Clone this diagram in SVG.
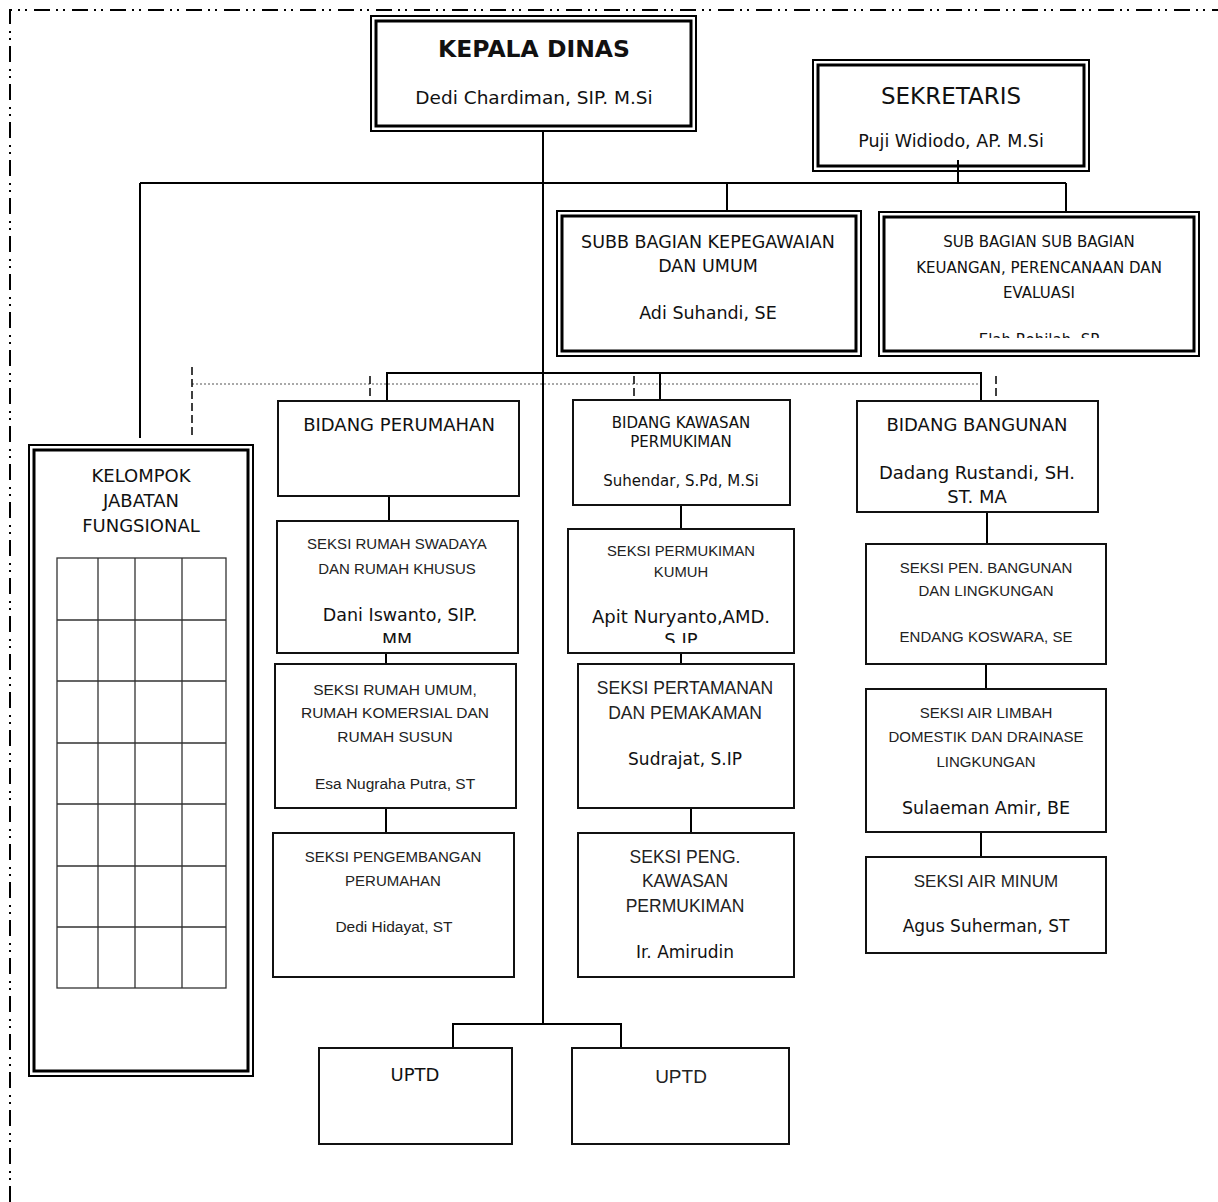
<svg xmlns="http://www.w3.org/2000/svg" width="1218" height="1202" viewBox="0 0 1218 1202">
<style>
.bg{fill:#fff}
.o{fill:none;stroke:#000;stroke-width:2}
.i{fill:none;stroke:#000;stroke-width:3}
.b{fill:#fff;stroke:#111;stroke-width:2}
.ln{fill:none;stroke:#000;stroke-width:2}
.dot{fill:none;stroke:#555;stroke-width:1.2;stroke-dasharray:2 2}
.dsh{fill:none;stroke:#000;stroke-width:1.5;stroke-dasharray:8 4}
.brd{fill:none;stroke:#000;stroke-width:2;stroke-dasharray:16 6 2 5 2 7}
.grid{fill:none;stroke:#333;stroke-width:1.3}
.cg{font-family:"DejaVu Sans","Liberation Sans",sans-serif;fill:#111;text-anchor:middle}
.cb{font-family:"Liberation Sans","Open Sans",sans-serif;fill:#222;text-anchor:middle}
</style>
<defs>
<clipPath id="cKeu"><rect x="880" y="215" width="316" height="123"/></clipPath>
<clipPath id="cSwa"><rect x="278" y="522" width="239" height="121"/></clipPath>
<clipPath id="cKum"><rect x="569" y="530" width="224" height="113"/></clipPath>
</defs>
<rect class="bg" x="0" y="0" width="1218" height="1202"/>
<path class="brd" d="M10 1202 V10 H1218"/>

<g id="connectors">
<path class="ln" d="M543 131 V1024"/>
<path class="ln" d="M958 160 V183"/>
<path class="ln" d="M140 183 H1066"/>
<path class="ln" d="M140 183 V438"/>
<path class="ln" d="M727 183 V211"/>
<path class="ln" d="M1066 183 V212"/>
<path class="dot" d="M192 384 H981"/>
<path class="dsh" d="M192 367 V438"/>
<path class="dsh" d="M370 376 V400"/>
<path class="dsh" d="M634 376 V400"/>
<path class="dsh" d="M996 376 V400"/>
<path class="ln" d="M387 401 V373 H981 V401"/>
<path class="ln" d="M660 373 V400"/>
<path class="ln" d="M389 496 V521"/>
<path class="ln" d="M386 653 V664"/>
<path class="ln" d="M386 808 V833"/>
<path class="ln" d="M681 505 V529"/>
<path class="ln" d="M681 653 V664"/>
<path class="ln" d="M691 808 V833"/>
<path class="ln" d="M987 512 V544"/>
<path class="ln" d="M986 664 V689"/>
<path class="ln" d="M981 832 V857"/>
<path class="ln" d="M453 1048 V1024 H621 V1048"/>
</g>

<g id="kepala-dinas">
<rect class="b" x="371" y="16" width="325" height="115"/>
<rect class="o" x="371" y="16" width="325" height="115"/>
<rect class="i" x="376" y="21" width="315" height="105"/>
<text class="cg" x="534" y="57" font-size="23.5" font-weight="bold">KEPALA DINAS</text>
<text class="cg" x="534" y="104" font-size="18.5">Dedi Chardiman, SIP. M.Si</text>
</g>

<g id="sekretaris">
<rect class="b" x="813" y="60" width="276" height="111"/>
<rect class="o" x="813" y="60" width="276" height="111"/>
<rect class="i" x="818" y="65" width="266" height="101"/>
<text class="cg" x="951" y="104" font-size="23">SEKRETARIS</text>
<text class="cg" x="951" y="147" font-size="17.5">Puji Widiodo, AP. M.Si</text>
</g>
<path class="ln" d="M958 160 V171"/>

<g id="subb-kepegawaian">
<rect class="b" x="557" y="211" width="304" height="145"/>
<rect class="o" x="557" y="211" width="304" height="145"/>
<rect class="i" x="562" y="216" width="294" height="135"/>
<text class="cg" x="708" y="248" font-size="17.5">SUBB BAGIAN KEPEGAWAIAN</text>
<text class="cg" x="708" y="272" font-size="17.5">DAN UMUM</text>
<text class="cg" x="708" y="319" font-size="17.5">Adi Suhandi, SE</text>
</g>

<g id="sub-keuangan">
<rect class="b" x="879" y="212" width="320" height="144"/>
<rect class="o" x="879" y="212" width="320" height="144"/>
<rect class="i" x="884" y="217" width="310" height="134"/>
<text class="cg" x="1039" y="247" font-size="15">SUB BAGIAN SUB BAGIAN</text>
<text class="cg" x="1039" y="273" font-size="15">KEUANGAN, PERENCANAAN DAN</text>
<text class="cg" x="1039" y="298" font-size="15">EVALUASI</text>
<text class="cg" x="1039" y="345" font-size="15" clip-path="url(#cKeu)">Elah Rohilah, SP</text>
</g>

<g id="kelompok-jabatan-fungsional">
<rect class="b" x="29" y="445" width="224" height="631"/>
<rect class="o" x="29" y="445" width="224" height="631"/>
<rect class="i" x="34" y="450" width="214" height="621"/>
<text class="cg" x="141" y="482" font-size="18">KELOMPOK</text>
<text class="cg" x="141" y="507" font-size="18">JABATAN</text>
<text class="cg" x="141" y="532" font-size="18">FUNGSIONAL</text>
<rect class="grid" x="57" y="558" width="169" height="430"/>
<path class="grid" d="M98 558 V988 M135 558 V988 M182 558 V988 M57 620 H226 M57 681 H226 M57 743 H226 M57 804 H226 M57 866 H226 M57 927 H226"/>
</g>

<g id="bidang-perumahan">
<rect class="b" x="278" y="401" width="241" height="95"/>
<text class="cg" x="399" y="431" font-size="18">BIDANG PERUMAHAN</text>
</g>

<g id="bidang-kawasan-permukiman">
<rect class="b" x="573" y="400" width="217" height="105"/>
<text class="cg" x="681" y="428" font-size="15">BIDANG KAWASAN</text>
<text class="cg" x="681" y="447" font-size="15">PERMUKIMAN</text>
<text class="cg" x="681" y="486" font-size="15">Suhendar, S.Pd, M.Si</text>
</g>

<g id="bidang-bangunan">
<rect class="b" x="857" y="401" width="241" height="111"/>
<text class="cg" x="977" y="431" font-size="18">BIDANG BANGUNAN</text>
<text class="cg" x="977" y="479" font-size="18">Dadang Rustandi, SH.</text>
<text class="cg" x="977" y="503" font-size="18">ST. MA</text>
</g>

<g id="seksi-rumah-swadaya">
<rect class="b" x="277" y="521" width="241" height="132"/>
<text class="cb" x="397" y="549" font-size="15">SEKSI RUMAH SWADAYA</text>
<text class="cb" x="397" y="574" font-size="15">DAN RUMAH KHUSUS</text>
<text class="cg" x="400" y="621" font-size="17.5">Dani Iswanto, SIP.</text>
<text class="cg" x="397" y="646" font-size="17.5" clip-path="url(#cSwa)">MM</text>
</g>

<g id="seksi-rumah-umum">
<rect class="b" x="275" y="664" width="241" height="144"/>
<text class="cb" x="395" y="695" font-size="15.5">SEKSI RUMAH UMUM,</text>
<text class="cb" x="395" y="718" font-size="15.5">RUMAH KOMERSIAL DAN</text>
<text class="cb" x="395" y="742" font-size="15.5">RUMAH SUSUN</text>
<text class="cb" x="395" y="789" font-size="15.5">Esa Nugraha Putra, ST</text>
</g>

<g id="seksi-pengembangan-perumahan">
<rect class="b" x="273" y="833" width="241" height="144"/>
<text class="cb" x="393" y="862" font-size="15">SEKSI PENGEMBANGAN</text>
<text class="cb" x="393" y="886" font-size="15">PERUMAHAN</text>
<text class="cb" x="394" y="932" font-size="15.5">Dedi Hidayat, ST</text>
</g>

<g id="seksi-permukiman-kumuh">
<rect class="b" x="568" y="529" width="226" height="124"/>
<text class="cb" x="681" y="556" font-size="14.8">SEKSI PERMUKIMAN</text>
<text class="cb" x="681" y="577" font-size="14.8">KUMUH</text>
<text class="cg" x="681" y="623" font-size="18">Apit Nuryanto,AMD.</text>
<text class="cg" x="681" y="646" font-size="18" clip-path="url(#cKum)">S.IP</text>
</g>

<g id="seksi-pertamanan">
<rect class="b" x="578" y="664" width="216" height="144"/>
<text class="cb" x="685" y="694" font-size="17.5">SEKSI PERTAMANAN</text>
<text class="cb" x="685" y="719" font-size="17.5">DAN PEMAKAMAN</text>
<text class="cg" x="685" y="765" font-size="17">Sudrajat, S.IP</text>
</g>

<g id="seksi-peng-kawasan">
<rect class="b" x="578" y="833" width="216" height="144"/>
<text class="cb" x="685" y="863" font-size="17.5">SEKSI PENG.</text>
<text class="cb" x="685" y="887" font-size="17.5">KAWASAN</text>
<text class="cb" x="685" y="912" font-size="17.5">PERMUKIMAN</text>
<text class="cg" x="685" y="958" font-size="17">Ir. Amirudin</text>
</g>

<g id="seksi-pen-bangunan">
<rect class="b" x="866" y="544" width="240" height="120"/>
<text class="cb" x="986" y="573" font-size="15">SEKSI PEN. BANGUNAN</text>
<text class="cb" x="986" y="596" font-size="15">DAN LINGKUNGAN</text>
<text class="cb" x="986" y="642" font-size="15">ENDANG KOSWARA, SE</text>
</g>

<g id="seksi-air-limbah">
<rect class="b" x="866" y="689" width="240" height="143"/>
<text class="cb" x="986" y="718" font-size="15">SEKSI AIR LIMBAH</text>
<text class="cb" x="986" y="742" font-size="15">DOMESTIK DAN DRAINASE</text>
<text class="cb" x="986" y="767" font-size="15">LINGKUNGAN</text>
<text class="cg" x="986" y="814" font-size="17.5">Sulaeman Amir, BE</text>
</g>

<g id="seksi-air-minum">
<rect class="b" x="866" y="857" width="240" height="96"/>
<text class="cb" x="986" y="887" font-size="17">SEKSI AIR MINUM</text>
<text class="cg" x="986" y="932" font-size="17">Agus Suherman, ST</text>
</g>

<g id="uptd-1">
<rect class="b" x="319" y="1048" width="193" height="96"/>
<text class="cg" x="415" y="1081" font-size="18">UPTD</text>
</g>

<g id="uptd-2">
<rect class="b" x="572" y="1048" width="217" height="96"/>
<text class="cb" x="681" y="1083" font-size="19" fill="#000">UPTD</text>
</g>
</svg>
